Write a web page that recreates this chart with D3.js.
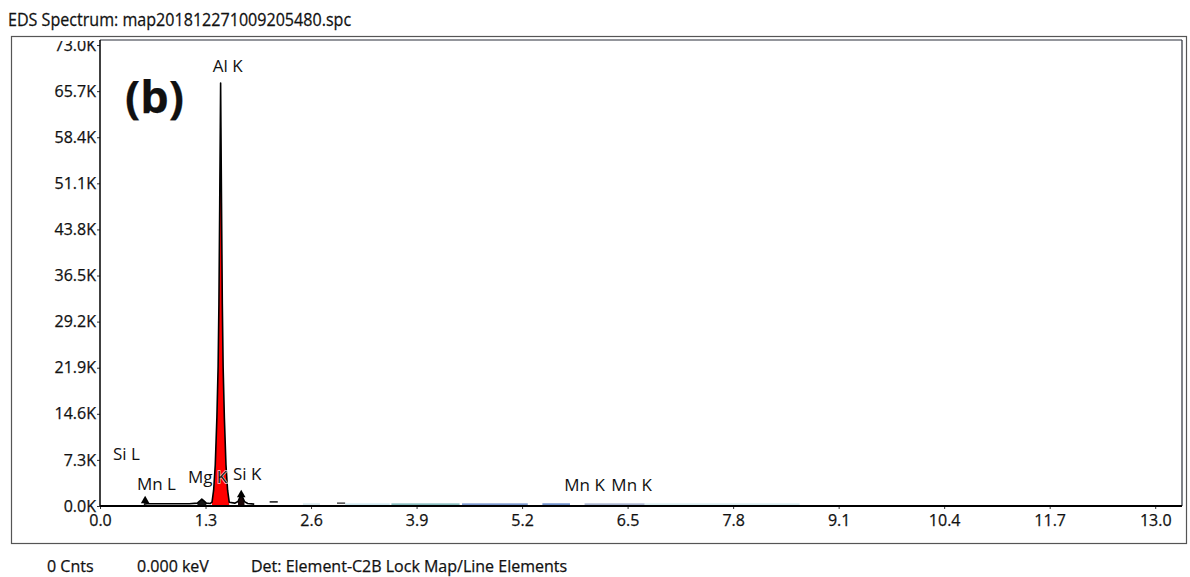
<!DOCTYPE html>
<html>
<head>
<meta charset="utf-8">
<script src="https://cdn.jsdelivr.net/npm/d3@7"></script>
<style>
  body { margin: 0; background: #fff; }
  text { font-family: "Open Sans", "Noto Sans", sans-serif; fill: #111; stroke: #111; stroke-width: 0.25px; }
  text.peak-label { stroke: #fff; stroke-width: 1.4px; paint-order: stroke; stroke-opacity: 0.8; }
</style>
</head>
<body>
<svg id="chart" width="1190" height="577"></svg>
<script>
// Spectrum samples: energy (keV) and counts (thousands)
const energy = [0.54, 0.58, 0.70, 0.90, 1.10, 1.20, 1.23, 1.254, 1.28, 1.31, 1.36,
                1.38, 1.40, 1.42, 1.44, 1.455, 1.465, 1.475, 1.482, 1.486, 1.490,
                1.497, 1.507, 1.517, 1.532, 1.552, 1.572, 1.592, 1.66, 1.70, 1.72,
                1.74, 1.76, 1.78, 1.82, 1.90];
const counts = [0.30, 0.35, 0.35, 0.35, 0.35, 0.45, 0.80, 1.10, 0.80, 0.45, 0.40,
                0.60, 2.5, 6.5, 14.0, 22.0, 32.0, 48.0, 60.0, 67.0, 60.0,
                48.0, 32.0, 22.0, 14.0, 6.5, 2.5, 0.60, 0.45, 0.70, 1.30,
                1.60, 1.30, 0.70, 0.40, 0.30];

// Filled peak regions
const fillLo = [1.20, 1.38, 1.70];
const fillHi = [1.31, 1.592, 1.78];
const fillColor = ["#141414", "#ff0000", "#1c0808"];

// Peak markers
const markerKeV = [0.556, 1.74];
const markerCount = [0.35, 1.30];

// Element labels (left edge in keV, baseline in thousands of counts)
const labelText = ["Al K", "Si L", "Mn L", "Mg K", "Si K", "Mn K", "Mn K"];
const labelKeV = [1.39, 0.16, 0.455, 1.083, 1.637, 5.72, 6.30];
const labelCount = [68.7, 7.3, 2.5, 3.6, 4.1, 2.4, 2.4];

// Faint background trace segments along the baseline
const segLo = [2.09, 2.92, 2.50, 3.02, 3.59, 4.46, 5.45, 5.97, 6.71];
const segHi = [2.19, 3.02, 2.71, 3.57, 4.43, 5.27, 5.79, 6.71, 8.62];
const segCount = [0.65, 0.45, 0.30, 0.30, 0.30, 0.30, 0.30, 0.30, 0.30];
const segColor = ["#222", "#555", "#cfe3ea", "#bfe2ec", "#62a9ab", "#5279c0", "#5279c0", "#8d9cc0", "#cde7ec"];

// Axis ticks
const xTicks = [0.0, 1.3, 2.6, 3.9, 5.2, 6.5, 7.8, 9.1, 10.4, 11.7, 13.0];
const yTicks = [0.0, 7.3, 14.6, 21.9, 29.2, 36.5, 43.8, 51.1, 58.4, 65.7, 73.0];

const svg = d3.select("#chart");
const plotL = 100, plotR = 1182, plotT = 40, plotB = 506;

const x = d3.scaleLinear().domain([0, 13.33]).range([plotL, plotR]);
const y = d3.scaleLinear().domain([0, 73.8]).range([plotB, plotT]);

// Outer frame
svg.append("rect").attr("x", 11.5).attr("y", 36.5).attr("width", 1175).attr("height", 507)
  .attr("fill", "none").attr("stroke", "#555").attr("stroke-width", 1.2);

// Clip for the axis group (group is translated to the left axis)
svg.append("defs").append("clipPath").attr("id", "frameClip")
  .append("rect").attr("x", -200).attr("y", 41).attr("width", 1400).attr("height", 500);

// Title and status line
svg.append("text").attr("transform", "translate(8,26) scale(0.92,1)").attr("font-size", 17.5)
  .text("EDS Spectrum: map201812271009205480.spc");
const status = [["0 Cnts", 47], ["0.000 keV", 137], ["Det: Element-C2B Lock Map/Line Elements", 251]];
status.forEach(([t, px]) => {
  svg.append("text").attr("x", px).attr("y", 572).attr("font-size", 16).text(t);
});

const pts = energy.map((e, i) => ({ e, c: counts[i] }));

// Baseline trace segments
const segG = svg.append("g");
segLo.forEach((lo, i) => {
  segG.append("line")
    .attr("x1", x(lo)).attr("x2", x(segHi[i]))
    .attr("y1", y(segCount[i])).attr("y2", y(segCount[i]))
    .attr("stroke", segColor[i]).attr("stroke-width", i < 2 ? 1.6 : 1.4);
});

// Filled peaks
const area = d3.area().x(d => x(d.e)).y0(y(0)).y1(d => y(d.c));
fillLo.forEach((lo, i) => {
  const sub = pts.filter(d => d.e >= lo && d.e <= fillHi[i]);
  svg.append("path").datum(sub).attr("d", area).attr("fill", fillColor[i]);
});

// Spectrum outline
const line = d3.line().x(d => x(d.e)).y(d => y(d.c));
svg.append("path").datum(pts).attr("d", line)
  .attr("fill", "none").attr("stroke", "#000").attr("stroke-width", 1.6)
  .attr("stroke-linejoin", "round");

// Markers
const tri = d3.symbol().type(d3.symbolTriangle).size(32);
markerKeV.forEach((k, i) => {
  svg.append("path").attr("d", tri())
    .attr("transform", `translate(${x(k)},${y(markerCount[i]) - 3})`)
    .attr("fill", "#000");
});

// Element labels
labelText.forEach((t, i) => {
  svg.append("text").attr("class", "peak-label")
    .attr("x", x(labelKeV[i])).attr("y", y(labelCount[i]))
    .attr("font-size", 17).text(t);
});

// Panel tag
svg.append("text").attr("x", 125).attr("y", 113).attr("font-size", 45)
  .attr("font-weight", 700).text("(b)");

// Axes
const yAxis = svg.append("g").attr("clip-path", "url(#frameClip)")
  .attr("transform", `translate(${plotL},0)`)
  .call(d3.axisLeft(y).tickValues(yTicks).tickFormat(d => d.toFixed(1) + "K")
    .tickSize(3).tickPadding(1));
yAxis.select(".domain").remove();
yAxis.selectAll("text").attr("font-size", 16).attr("font-family", null).attr("fill", "#111");
yAxis.selectAll("line").attr("stroke", "#333");

const xAxis = svg.append("g").attr("transform", `translate(0,${plotB})`)
  .call(d3.axisBottom(x).tickValues(xTicks).tickFormat(d => d.toFixed(1))
    .tickSize(3).tickPadding(6));
xAxis.select(".domain").remove();
xAxis.selectAll("text").attr("font-size", 16).attr("font-family", null).attr("fill", "#111");
xAxis.selectAll("line").attr("stroke", "#333");

// Plot border
svg.append("line").attr("x1", plotL).attr("x2", plotR).attr("y1", plotT).attr("y2", plotT)
  .attr("stroke", "#2a2f3a").attr("stroke-width", 1.2);
svg.append("line").attr("x1", plotR).attr("x2", plotR).attr("y1", plotT).attr("y2", plotB)
  .attr("stroke", "#2a2f3a").attr("stroke-width", 1.2);
svg.append("line").attr("x1", plotL).attr("x2", plotL).attr("y1", plotT).attr("y2", plotB)
  .attr("stroke", "#000").attr("stroke-width", 1.5);
svg.append("line").attr("x1", plotL).attr("x2", plotR).attr("y1", plotB).attr("y2", plotB)
  .attr("stroke", "#000").attr("stroke-width", 2);
</script>
</body>
</html>
